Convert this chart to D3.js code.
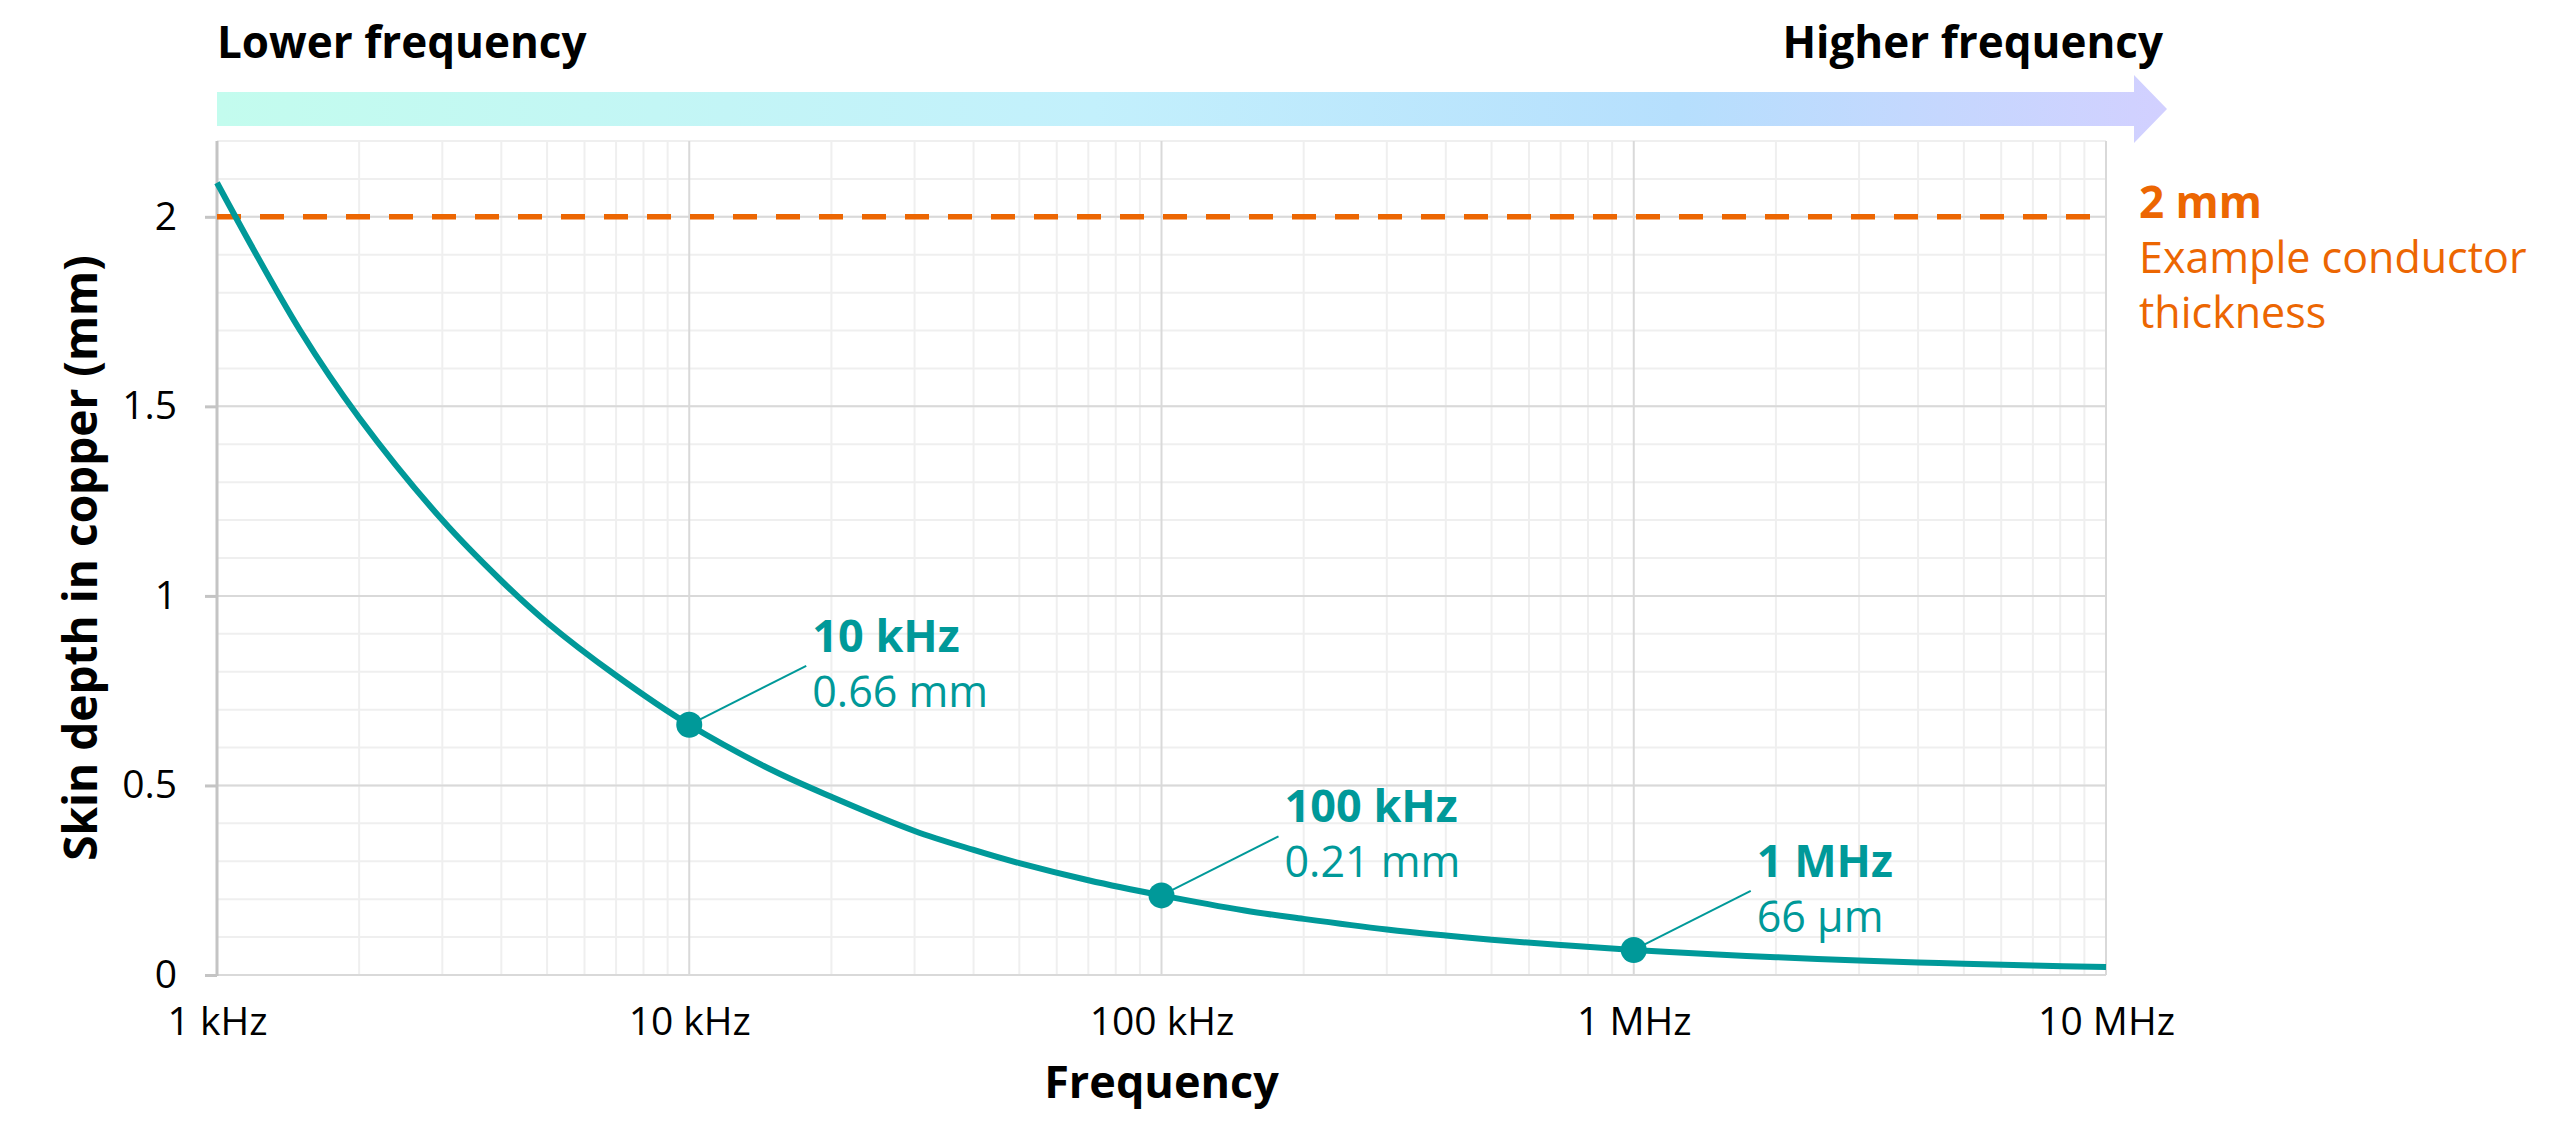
<!DOCTYPE html>
<meta charset="utf-8">
<style>
body { margin: 0; background: #fff; }
text { font-family: "Open Sans", "Noto Sans", sans-serif; }
.grid-minor line { stroke: #efefef; stroke-width: 2px; }
.grid-major line { stroke: #d9d9d9; stroke-width: 2px; }
.axis text { font-size: 39px; fill: #000; }
.axis path { display: none; }
</style>
<svg width="2560" height="1138"></svg>
<script src="https://cdn.jsdelivr.net/npm/d3@7"></script>
<script>

// skin depth, frequency in Hz, depth in mm
var freqHz = [1000, 1500, 2000, 3000, 4000, 5000, 7000, 10000, 15000, 20000, 30000, 40000, 50000, 70000,
              100000, 150000, 200000, 300000, 400000, 500000, 700000,
              1e6, 1.5e6, 2e6, 3e6, 4e6, 5e6, 7e6, 1e7];
var depthMm = [2.09, 1.70, 1.47, 1.20, 1.04, 0.93, 0.79, 0.66, 0.54, 0.47, 0.38, 0.33, 0.295, 0.25,
               0.21, 0.17, 0.148, 0.12, 0.104, 0.093, 0.079,
               0.066, 0.054, 0.047, 0.038, 0.033, 0.030, 0.025, 0.021];

var xTicks = [1e3, 1e4, 1e5, 1e6, 1e7];
var xTickLabels = ["1 kHz", "10 kHz", "100 kHz", "1 MHz", "10 MHz"];
var yTicks = [0, 0.5, 1, 1.5, 2];

var markerFreq = [1e4, 1e5, 1e6];
var markerDepth = [0.66, 0.21, 0.066];
var markerTitle = ["10 kHz", "100 kHz", "1 MHz"];
var markerValue = ["0.66 mm", "0.21 mm", "66 µm"];

var thicknessMm = 2;

var teal = "#009999",
    orange = "#ec6602";

var svg = d3.select("svg"),
    plotLeft = 217, plotRight = 2106, plotTop = 141, plotBottom = 975;

var x = d3.scaleLog().domain([1e3, 1e7]).range([plotLeft, plotRight]);
var y = d3.scaleLinear().domain([0, 2.2]).range([plotBottom, plotTop]);

// minor grid
var minorX = [];
for (var d = 1e3; d < 1e7; d *= 10)
  for (var k = 2; k < 10; k++) minorX.push(d * k);
var minorY = d3.range(0, 23).map(function(i) { return i / 10; });

var gMinor = svg.append("g").attr("class", "grid-minor");
gMinor.selectAll(".v").data(minorX).enter().append("line")
    .attr("x1", x).attr("x2", x).attr("y1", plotTop).attr("y2", plotBottom);
gMinor.selectAll(".h").data(minorY).enter().append("line")
    .attr("x1", plotLeft).attr("x2", plotRight).attr("y1", y).attr("y2", y);

var gMajor = svg.append("g").attr("class", "grid-major");
gMajor.selectAll(".v").data(xTicks).enter().append("line")
    .attr("x1", x).attr("x2", x).attr("y1", plotTop).attr("y2", plotBottom);
gMajor.selectAll(".h").data(yTicks).enter().append("line")
    .attr("x1", plotLeft).attr("x2", plotRight).attr("y1", y).attr("y2", y);

// left axis line
svg.append("line")
    .attr("x1", plotLeft).attr("x2", plotLeft).attr("y1", plotTop).attr("y2", plotBottom + 1)
    .attr("stroke", "#c4c4c4").attr("stroke-width", 3);

// axes
var yAxis = svg.append("g").attr("class", "axis")
    .attr("transform", "translate(" + plotLeft + ",0)")
    .call(d3.axisLeft(y).tickValues(yTicks).tickSize(12).tickPadding(28).tickFormat(d3.format("")));
yAxis.selectAll(".tick line").attr("stroke", "#c4c4c4").attr("stroke-width", 3);

var xAxis = svg.append("g").attr("class", "axis")
    .attr("transform", "translate(0," + plotBottom + ")")
    .call(d3.axisBottom(x).tickValues(xTicks).tickSize(0).tickPadding(32)
      .tickFormat(function(d, i) { return xTickLabels[i]; }));

// axis titles
svg.append("text")
    .attr("x", (plotLeft + plotRight) / 2).attr("y", 1098)
    .attr("text-anchor", "middle")
    .style("font-size", "45px").style("font-weight", "bold")
    .text("Frequency");

svg.append("text")
    .attr("transform", "translate(97," + (plotTop + plotBottom) / 2 + ") rotate(-90)")
    .attr("text-anchor", "middle")
    .style("font-size", "46px").style("font-weight", "bold")
    .text("Skin depth in copper (mm)");

// frequency arrow on top
var defs = svg.append("defs");
var grad = defs.append("linearGradient").attr("id", "arrowGrad")
    .attr("x1", "0%").attr("x2", "100%");
grad.append("stop").attr("offset", "0%").attr("stop-color", "#c3fcee");
grad.append("stop").attr("offset", "45%").attr("stop-color", "#c3f0fc");
grad.append("stop").attr("offset", "75%").attr("stop-color", "#b6dffd");
grad.append("stop").attr("offset", "100%").attr("stop-color", "#d2d0ff");

svg.append("path")
    .attr("d", "M" + plotLeft + ",92 L2134,92 L2134,75 L2167,109 L2134,143 L2134,126 L" + plotLeft + ",126 Z")
    .attr("fill", "url(#arrowGrad)");

svg.append("text")
    .attr("x", plotLeft).attr("y", 58)
    .style("font-size", "44px").style("font-weight", "bold")
    .text("Lower frequency");

svg.append("text")
    .attr("x", 2163).attr("y", 58).attr("text-anchor", "end")
    .style("font-size", "44px").style("font-weight", "bold")
    .text("Higher frequency");

// conductor thickness reference
svg.append("line")
    .attr("x1", plotLeft).attr("x2", plotRight + 2)
    .attr("y1", y(thicknessMm)).attr("y2", y(thicknessMm))
    .attr("stroke", orange).attr("stroke-width", 5.5)
    .attr("stroke-dasharray", "24,19");

var refLabel = svg.append("text")
    .attr("x", 2139).attr("y", y(thicknessMm) + 1)
    .attr("fill", orange);
refLabel.append("tspan")
    .style("font-size", "44px").style("font-weight", "bold")
    .text(thicknessMm + " mm");
refLabel.append("tspan")
    .attr("x", 2139).attr("dy", 55)
    .style("font-size", "43px")
    .text("Example conductor");
refLabel.append("tspan")
    .attr("x", 2139).attr("dy", 55)
    .style("font-size", "43px")
    .text("thickness");

// skin depth curve
var line = d3.line()
    .x(function(d, i) { return x(freqHz[i]); })
    .y(function(d) { return y(d); })
    .curve(d3.curveCatmullRom.alpha(0.5));

svg.append("path")
    .datum(depthMm)
    .attr("d", line)
    .attr("fill", "none")
    .attr("stroke", teal)
    .attr("stroke-width", 6);

// marked points
var marks = svg.selectAll(".mark")
    .data(markerFreq)
  .enter().append("g")
    .attr("class", "mark")
    .attr("transform", function(d, i) { return "translate(" + x(d) + "," + y(markerDepth[i]) + ")"; });

marks.append("line")
    .attr("x1", 0).attr("y1", 0).attr("x2", 117).attr("y2", -59)
    .attr("stroke", teal).attr("stroke-width", 2);

marks.append("circle")
    .attr("r", 13)
    .attr("fill", teal);

marks.append("text")
    .attr("x", 123).attr("y", -73)
    .attr("fill", teal)
    .style("font-size", "45px").style("font-weight", "bold")
    .text(function(d, i) { return markerTitle[i]; });

marks.append("text")
    .attr("x", 123).attr("y", -18)
    .attr("fill", teal)
    .style("font-size", "43px")
    .text(function(d, i) { return markerValue[i]; });

</script>
